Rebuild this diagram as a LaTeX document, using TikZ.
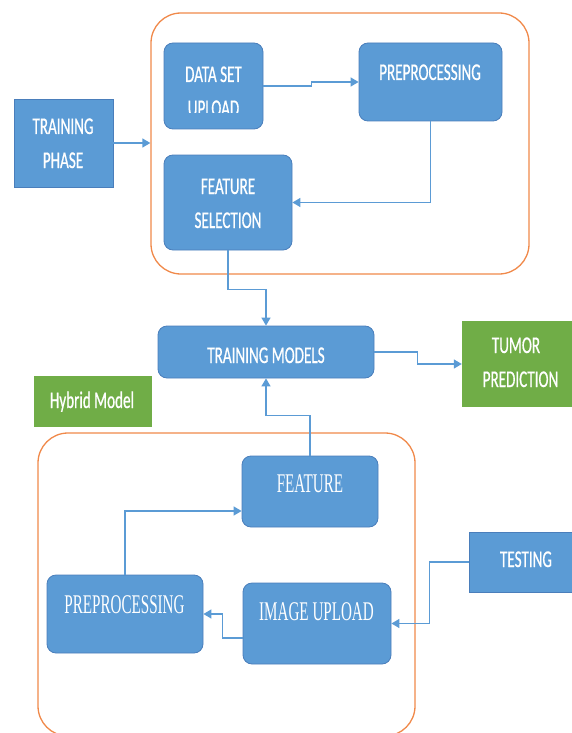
\documentclass[tikz,border=0pt]{standalone}
\usepackage{fontspec}
\newfontfamily\sansc[FakeStretch=0.63,FakeBold=0.6]{Carlito}
\newfontfamily\serifc[FakeStretch=0.56]{Liberation Serif}
\usetikzlibrary{arrows.meta,calc}
\definecolor{boxblue}{HTML}{5B9BD5}
\definecolor{boxedge}{HTML}{4A7EBB}
\definecolor{boxgreen}{HTML}{70AD47}
\definecolor{frameorange}{HTML}{F0894A}
\definecolor{linkblue}{HTML}{5B9BD5}
\begin{document}
\begin{tikzpicture}[x=1pt,y=-1pt,
 bluebox/.style={draw=boxedge, line width=0.8pt, fill=boxblue, rounded corners=9pt, inner sep=0pt},
 flatbox/.style={draw=boxedge, line width=0.8pt, fill=boxblue, inner sep=0pt},
 greenbox/.style={fill=boxgreen, draw=none, inner sep=0pt},
 frame/.style={draw=frameorange, line width=1.3pt, rounded corners=30pt, inner sep=0pt},
 link/.style={draw=linkblue, line width=1.4pt, -{Triangle[length=8pt,width=9pt]}},
 stxt/.style={text=white, anchor=base, inner sep=0pt, font=\sansc\fontsize{24}{24}\selectfont},
 rtxt/.style={text=white, anchor=base, inner sep=0pt, font=\serifc\fontsize{27}{27}\selectfont},
]
\clip (0,0) rectangle (572,733);
% frames
\node[frame, minimum width=378pt, minimum height=261pt] (ob1) at (340,143.5) {};
\node[frame, minimum width=377pt, minimum height=303pt] (ob2) at (226.5,584.5) {};
% boxes
\node[flatbox, minimum width=99pt, minimum height=88pt] (tp) at (63.5,143) {};
\node[bluebox, minimum width=99pt, minimum height=86pt] (dsu) at (213.5,86) {};
\node[bluebox, minimum width=143pt, minimum height=78pt] (pre1) at (430.5,82) {};
\node[bluebox, minimum width=128pt, minimum height=95pt] (fs) at (228,202.5) {};
\node[bluebox, minimum width=216pt, minimum height=52pt] (tm) at (266,352) {};
\node[greenbox, minimum width=110pt, minimum height=86pt] (tumor) at (517,364) {};
\node[greenbox, minimum width=118pt, minimum height=51pt] (hyb) at (93,401.5) {};
\node[bluebox, minimum width=136pt, minimum height=71pt] (feat) at (310,491.5) {};
\node[bluebox, minimum width=156pt, minimum height=78pt] (pre2) at (125,614) {};
\node[bluebox, minimum width=148pt, minimum height=81pt] (iu) at (317,623.5) {};
\node[flatbox, minimum width=103pt, minimum height=60pt] (test) at (520.5,562) {};
% texts
\node[stxt] (t-tp1) at (63,134) {TRAINING};
\node[stxt] (t-tp2) at (63,168) {PHASE};
\node[stxt] (t-dsu1) at (213.5,82) {DATA SET};
\begin{scope}
\clip (164,43) rectangle (263,113);
\node[stxt] (t-dsu2) at (213.5,116) {UPLOAD};
\end{scope}
\node[stxt] (t-pre1) at (430,80) {PREPROCESSING};
\node[stxt] (t-fs1) at (228,194) {FEATURE};
\node[stxt] (t-fs2) at (228,228) {SELECTION};
\node[stxt] (t-tm) at (266,363) {TRAINING MODELS};
\node[stxt] (t-tu1) at (516,353) {TUMOR};
\node[stxt] (t-tu2) at (520.5,387) {PREDICTION};
\node[stxt] (t-hyb) at (92,408) {Hybrid Model};
\node[rtxt] (t-feat) at (310,492) {FEATURE};
\node[rtxt] (t-pre2) at (124.5,613) {PREPROCESSING};
\node[rtxt] (t-iu) at (316.5,620) {IMAGE UPLOAD};
\node[stxt] (t-test) at (526,567) {TESTING};
% links
\draw[link] (tp.east) -- (tp.east -| ob1.west);
\draw[link] (dsu.east) -- ++(48,0) |- (pre1.west);
\draw[link] (pre1.south) |- (fs.east);
\draw[link] (fs.south) -- ++(0,39) -| (tm.north);
\draw[link] (tm.east) -- ++(43,0) |- (tumor.west);
\draw[link] (feat.north) -- ++(0,-40) -| (tm.south);
\draw[link] (pre2.north) |- ([yshift=-19.5pt]feat.west);
\draw[link] ([yshift=-14.5pt]iu.west) -- ++(-20,0) |- (pre2.east);
\draw[link] (test.west) -- ++(-39,0) |- (iu.east);
\end{tikzpicture}
\end{document}
